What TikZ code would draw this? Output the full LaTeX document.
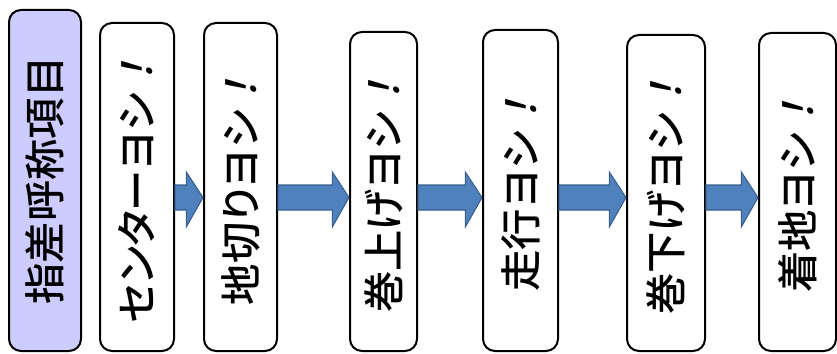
\documentclass[tikz,border=0pt]{standalone}
\usepackage{graphicx}
\usepackage{fontspec}
\usetikzlibrary{calc}
\newfontfamily\jpfont{Noto Sans CJK JP Medium}[RawFeature={+palt}]
\newfontfamily\jpslant{Noto Sans CJK JP Medium}[FakeSlant=0.25]
\definecolor{headfill}{HTML}{CCCCFF}
\definecolor{arrowfill}{HTML}{4F81BD}
\definecolor{arrowline}{HTML}{3A5F8F}
\newcommand{\yoshi}[1]{\rotatebox{90}{\jpfont #1\jpslant ！}}
\tikzset{
  item/.style={draw, line width=1.5pt, rounded corners=9pt, inner sep=0pt,
    fill=white, font=\fontsize{31pt}{31pt}\selectfont},
  head/.style={item, fill=headfill},
  flowarrow/.style={draw=arrowline, fill=arrowfill, line width=0.8pt}
}
\begin{document}
\begin{tikzpicture}[x=0.75pt, y=-0.75pt]
    \useasboundingbox (0,0) rectangle (837,353);

    % ~~~~ Cajas ~~~~%
    \node[head, minimum width=54pt, minimum height=255.75pt] (hdr) at (45,180.5)
        {\rotatebox{90}{\jpfont 指差呼称項目}};
    \node[item, minimum width=55.5pt, minimum height=246pt] (b1) at (137,187) {\yoshi{センターヨシ}};
    \node[item, minimum width=54.75pt, minimum height=246pt] (b2) at (240.5,187) {\yoshi{地切りヨシ}};
    \node[item, minimum width=50.25pt, minimum height=239.25pt] (b3) at (383.5,191.5) {\yoshi{巻上げヨシ}};
    \node[item, minimum width=56.25pt, minimum height=240.75pt] (b4) at (520.5,190.5) {\yoshi{走行ヨシ}};
    \node[item, minimum width=58.5pt, minimum height=237pt] (b5) at (666,193) {\yoshi{巻下げヨシ}};
    \node[item, minimum width=57.75pt, minimum height=238.5pt] (b6) at (797.5,192) {\yoshi{着地ヨシ}};

    % ~~~~ Flechas ~~~~%
    \foreach \a/\b in {b1/b2, b2/b3, b3/b4, b4/b5, b5/b6}
        \draw[flowarrow] let \p1=(\a.east), \p2=(\b.west) in
            (\x1,-138.75pt) -- (\x2-12.5pt,-138.75pt) -- (\x2-12.5pt,-129pt)
            -- (\x2,-148.1pt) -- (\x2-12.5pt,-170.25pt) -- (\x2-12.5pt,-157.5pt)
            -- (\x1,-157.5pt) -- cycle;
\end{tikzpicture}
\end{document}
